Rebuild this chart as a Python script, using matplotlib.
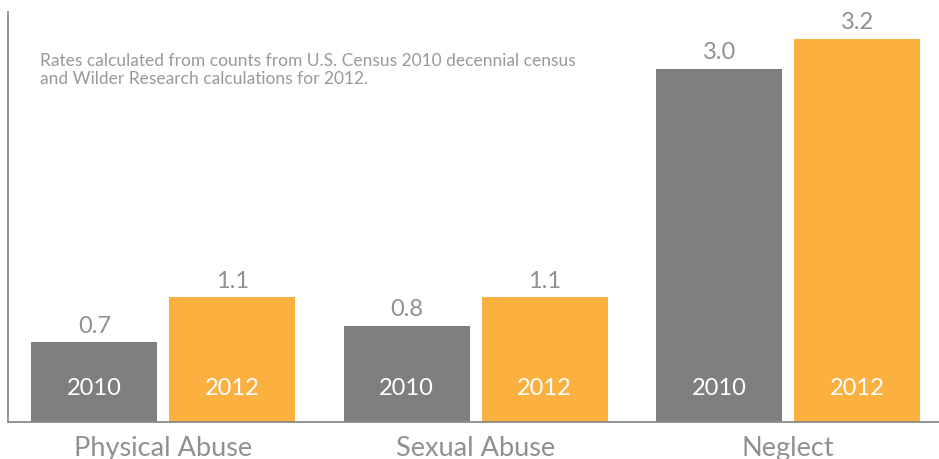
import numpy as np
from matplotlib import pyplot as plt

plt.rcParams['font.family'] = ['Lato', 'DejaVu Sans']

categories = ['Physical Abuse', 'Sexual Abuse', 'Neglect']
years = ['2010', '2012']
rates_2010 = [0.67, 0.81, 2.97]
rates_2012 = [1.05, 1.05, 3.22]
note = ('Rates calculated from counts from U.S. Census 2010 decennial census\n'
        'and Wilder Research calculations for 2012.')

gray = '#7f7f7f'
orange = '#fbb040'
text_gray = '#909090'

fig = plt.figure(figsize=(9.39, 4.59), dpi=100)
ax = fig.add_axes([8 / 939, 37 / 459, 931 / 939, 410 / 459])

x = np.arange(len(categories))
w = 126 / 312.4
off = 69 / 312.4

for vals, shift, color, year in [(rates_2010, -off, gray, years[0]),
                                 (rates_2012, off, orange, years[1])]:
    bars = ax.bar(x + shift, vals, width=w, color=color, zorder=2)
    for b, v in zip(bars, vals):
        cx = b.get_x() + b.get_width() / 2
        ax.text(cx, v + 0.045, f'{v:.1f}', ha='center', va='bottom',
                fontsize=17, color=text_gray)
        ax.text(cx, 0.28, year, ha='center', va='center',
                fontsize=17, color='white')

ax.set_xlim(-0.497, 2.483)
ax.set_ylim(0, 3.445)
ax.set_xticks(x)
ax.set_xticklabels(categories, fontsize=19.5, color=text_gray)
ax.tick_params(axis='x', length=0, pad=10)
ax.set_yticks([])
for s in ['top', 'right']:
    ax.spines[s].set_visible(False)
for s in ['left', 'bottom']:
    ax.spines[s].set_color('#8a8a8a')
    ax.spines[s].set_linewidth(1.3)

ax.text(40 / 939, 1 - 70 / 459, note, transform=fig.transFigure, ha='left', va='center',
        fontsize=12.5, color='#999999', linespacing=1.1)

fig.savefig('out.png', dpi=100)
